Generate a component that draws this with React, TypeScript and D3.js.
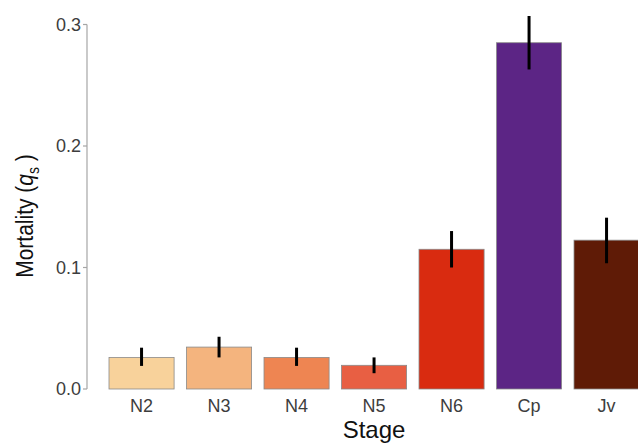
import { useEffect, useRef } from "react";
import * as d3 from "d3";

const stages = ["N2", "N3", "N4", "N5", "N6", "Cp", "Jv"];
const mortality = [0.026, 0.0345, 0.026, 0.0195, 0.115, 0.285, 0.1225];
const errLow = [0.019, 0.026, 0.019, 0.013, 0.1, 0.263, 0.1035];
const errHigh = [0.034, 0.043, 0.034, 0.026, 0.13, 0.307, 0.141];
const barColors = ["#f8d29b", "#f4b47e", "#ee8552", "#e85f43", "#d92b10", "#5c2585", "#5f1b06"];
const yTicks = [0, 0.1, 0.2, 0.3];

export default function App() {
  const svgRef = useRef<SVGSVGElement | null>(null);

  useEffect(() => {
    document.body.style.margin = "0";
    if (!svgRef.current) return;
    const svg = d3.select(svgRef.current);
    svg.selectAll("*").remove();

    const width = 638;
    const height = 443;
    const font = "Liberation Sans, Arial, sans-serif";

    const y = d3.scaleLinear().domain([0, 0.3]).range([389, 24.5]);
    const x = d3
      .scaleBand()
      .domain(stages)
      .range([102.8, 645.3])
      .paddingInner(0.16)
      .paddingOuter(0.08);

    svg.attr("width", width).attr("height", height);
    svg.append("rect").attr("width", width).attr("height", height).attr("fill", "#fff");

    // y axis
    const axisX = 87;
    svg.append("line").attr("x1", axisX).attr("x2", axisX).attr("y1", y(0)).attr("y2", y(0.3))
      .attr("stroke", "#a6a6a6").attr("stroke-width", 1.2);
    const ticks = svg.append("g");
    yTicks.forEach((t) => {
      ticks.append("line").attr("x1", axisX - 4).attr("x2", axisX).attr("y1", y(t)).attr("y2", y(t))
        .attr("stroke", "#a6a6a6").attr("stroke-width", 1.2);
      ticks.append("text").attr("x", axisX - 6).attr("y", y(t)).attr("dy", "0.36em")
        .attr("text-anchor", "end").attr("font-family", font).attr("font-size", 18)
        .attr("fill", "#3d3d3d").text(t.toFixed(1));
    });

    // bars
    const data = stages.map((s, i) => ({ s, v: mortality[i], lo: errLow[i], hi: errHigh[i], c: barColors[i] }));
    svg.append("g").selectAll("rect").data(data).enter().append("rect")
      .attr("x", (d) => x(d.s)!)
      .attr("width", x.bandwidth())
      .attr("y", (d) => y(d.v))
      .attr("height", (d) => y(0) - y(d.v))
      .attr("fill", (d) => d.c)
      .attr("stroke", "#8a8a8a")
      .attr("stroke-width", 0.8);

    // error bars
    svg.append("g").selectAll("line").data(data).enter().append("line")
      .attr("x1", (d) => x(d.s)! + x.bandwidth() / 2)
      .attr("x2", (d) => x(d.s)! + x.bandwidth() / 2)
      .attr("y1", (d) => y(d.lo))
      .attr("y2", (d) => y(d.hi))
      .attr("stroke", "#000")
      .attr("stroke-width", 3);

    // x tick labels
    svg.append("g").selectAll("text").data(stages).enter().append("text")
      .attr("x", (d) => x(d)! + x.bandwidth() / 2)
      .attr("y", 412)
      .attr("text-anchor", "middle")
      .attr("font-family", font).attr("font-size", 18).attr("fill", "#3d3d3d")
      .text((d) => d);

    // axis titles
    svg.append("text").attr("x", 374).attr("y", 438).attr("text-anchor", "middle")
      .attr("font-family", font).attr("font-size", 24).attr("fill", "#111").text("Stage");

    const yl = svg.append("text")
      .attr("transform", "translate(33,216) rotate(-90) scale(1,1.12)")
      .attr("text-anchor", "middle")
      .attr("font-family", font).attr("font-size", 21).attr("fill", "#111");
    yl.append("tspan").text("Mortality (");
    yl.append("tspan").attr("font-style", "italic").text("q");
    yl.append("tspan").attr("font-size", 14).attr("dy", 5).text("s");
    yl.append("tspan").attr("dy", -5).text(" )");
  }, []);

  return (
    <div style={{ position: "absolute", left: 0, top: 0 }}>
      <svg ref={svgRef} style={{ display: "block" }} />
    </div>
  );
}
